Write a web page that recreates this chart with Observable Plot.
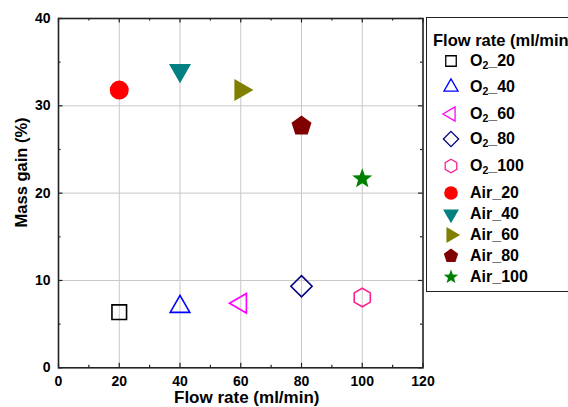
<!DOCTYPE html>
<html>
<head>
<meta charset="utf-8">
<script src="https://cdn.jsdelivr.net/npm/d3@7"></script>
<script src="https://cdn.jsdelivr.net/npm/@observablehq/plot@0.6"></script>
<style>
  html, body { margin: 0; padding: 0; background: #fff; }
  #wrap { position: relative; width: 568px; height: 407px; overflow: hidden; font-family: "Liberation Sans", Arial, sans-serif; font-weight: bold; }
  #legend { position: absolute; left: 426px; top: 17px; width: 170px; height: 275px; border: 1.5px solid #222; box-sizing: border-box; background: #fff; }
  #legend .title { position: absolute; left: 6px; font-size: 16.5px; line-height: 17px; white-space: nowrap; }
  #legend .row { position: absolute; left: 0; height: 20px; width: 170px; }
  #legend .row svg { position: absolute; left: 12px; top: 0; }
  #legend .row span { position: absolute; left: 43px; top: 1px; font-size: 16px; line-height: 18px; white-space: nowrap; }
  #legend sub { font-size: 10.5px; vertical-align: -3px; line-height: 0; }
</style>
</head>
<body>
<div id="wrap"><div id="chart"></div><div id="legend"></div></div>
<script>
// ---- data ----
const legendTitle = "Flow rate (ml/min)";
const xLabel = "Flow rate (ml/min)";
const yLabel = "Mass gain (%)";
const xTicks = [0, 20, 40, 60, 80, 100, 120];
const xMinor = [10, 30, 50, 70, 90, 110];
const yTicks = [0, 10, 20, 30, 40];
const yMinor = [5, 15, 25, 35];
const gases = ["O2", "O2", "O2", "O2", "O2", "Air", "Air", "Air", "Air", "Air"];
const flow = [20, 40, 60, 80, 100, 20, 40, 60, 80, 100];
const gain = [6.37, 6.99, 7.39, 9.34, 8.05, 31.8, 34.05, 31.8, 27.7, 21.65];
const shapes = ["square", "triangleUp", "triangleLeft", "diamond", "hexagon", "circle", "triangleDown", "triangleRight", "pentagon", "star"];
const colors = ["#000000", "#0000ff", "#ff00ff", "#000080", "#ff1f8f", "#ff0000", "#008080", "#808000", "#800000", "#008000"];
const filled = [false, false, false, false, false, true, true, true, true, true];
const radii = [7.3, 11.3, 11.3, 10.6, 9.3, 9.5, 12.7, 12.7, 10.5, 10.5];

// ---- custom symbols (R = sqrt(size/PI) = Plot's r) ----
const S3 = Math.sqrt(3);
function poly(ctx, pts) { ctx.moveTo(pts[0][0], pts[0][1]); for (let i = 1; i < pts.length; i++) ctx.lineTo(pts[i][0], pts[i][1]); ctx.closePath(); }
function R(size) { return Math.sqrt(size / Math.PI); }
const symbols = {
  square: { draw(c, s) { const r = R(s); poly(c, [[-r, -r], [r, -r], [r, r], [-r, r]]); } },
  triangleUp: { draw(c, s) { const r = R(s); poly(c, [[0, -r], [r * S3 / 2, r / 2], [-r * S3 / 2, r / 2]]); } },
  triangleDown: { draw(c, s) { const r = R(s); poly(c, [[0, r], [r * S3 / 2, -r / 2], [-r * S3 / 2, -r / 2]]); } },
  triangleLeft: { draw(c, s) { const r = R(s); poly(c, [[-r, 0], [r / 2, -r * S3 / 2], [r / 2, r * S3 / 2]]); } },
  triangleRight: { draw(c, s) { const r = R(s); poly(c, [[r, 0], [-r / 2, -r * S3 / 2], [-r / 2, r * S3 / 2]]); } },
  diamond: { draw(c, s) { const r = R(s); poly(c, [[0, -r], [r, 0], [0, r], [-r, 0]]); } },
  hexagon: { draw(c, s) { const r = R(s); poly(c, d3.range(6).map(k => { const a = -Math.PI / 2 + k * Math.PI / 3; return [r * Math.cos(a), r * Math.sin(a)]; })); } },
  circle: { draw(c, s) { const r = R(s); c.moveTo(r, 0); c.arc(0, 0, r, 0, 2 * Math.PI); } },
  pentagon: { draw(c, s) { const r = R(s); poly(c, d3.range(5).map(k => { const a = -Math.PI / 2 + k * 2 * Math.PI / 5; return [r * Math.cos(a), r * Math.sin(a)]; })); } },
  star: { draw(c, s) { const r = R(s); poly(c, d3.range(10).map(k => { const a = -Math.PI / 2 + k * Math.PI / 5; const rr = k % 2 ? r * 0.42 : r; return [rr * Math.cos(a), rr * Math.sin(a)]; })); } }
};

const rows = flow.map((f, i) => ({ gas: gases[i], flow: f, gain: gain[i], shape: shapes[i], color: colors[i], filled: filled[i], r: radii[i] }));

// ---- layout ----
const W = 568, H = 407;
const mL = 58, mR = 145.5, mT = 18, mB = 39.7;
const fw = W - mL - mR, fh = H - mT - mB;
const axisColor = "#222";
const gridColor = "#c8c8c8";

const marks = [
  Plot.ruleX(xTicks.slice(1, -1), { stroke: gridColor, strokeWidth: 1 }),
  Plot.ruleY(yTicks.slice(1, -1), { stroke: gridColor, strokeWidth: 1 }),
  // inward ticks on all four sides
  Plot.tickX(xTicks, { x: d => d, insetTop: fh - 4.5, stroke: axisColor, strokeWidth: 1.2 }),
  Plot.tickX(xMinor, { x: d => d, insetTop: fh - 2.5, stroke: axisColor, strokeWidth: 1.2 }),
  Plot.tickX(xTicks, { x: d => d, insetBottom: fh - 4.5, stroke: axisColor, strokeWidth: 1.2 }),
  Plot.tickX(xMinor, { x: d => d, insetBottom: fh - 2.5, stroke: axisColor, strokeWidth: 1.2 }),
  Plot.tickY(yTicks, { y: d => d, insetRight: fw - 4.5, stroke: axisColor, strokeWidth: 1.2 }),
  Plot.tickY(yMinor, { y: d => d, insetRight: fw - 2.5, stroke: axisColor, strokeWidth: 1.2 }),
  Plot.tickY(yTicks, { y: d => d, insetLeft: fw - 4.5, stroke: axisColor, strokeWidth: 1.2 }),
  Plot.tickY(yMinor, { y: d => d, insetLeft: fw - 2.5, stroke: axisColor, strokeWidth: 1.2 }),
  Plot.frame({ stroke: axisColor, strokeWidth: 1.6 }),
  Plot.axisX({ ticks: xTicks, tickSize: 0, tickPadding: 8, label: null, fontSize: 14, fontWeight: "bold", fill: "#000" }),
  Plot.axisY({ ticks: yTicks, tickSize: 0, tickPadding: 8, label: null, fontSize: 14, fontWeight: "bold", fill: "#000" }),
  Plot.text([xLabel], { frameAnchor: "bottom", textAnchor: "middle", lineAnchor: "bottom", dx: 6, dy: 35.5, fontSize: 17, fontWeight: "bold", fill: "#000" }),
  Plot.text([yLabel], { frameAnchor: "left", textAnchor: "middle", lineAnchor: "middle", rotate: -90, dx: -37, dy: -20.7, fontSize: 16.5, fontWeight: "bold", fill: "#000" })
];
for (const d of rows) {
  marks.push(Plot.dot([d], {
    x: "flow", y: "gain",
    symbol: symbols[d.shape], r: d.r,
    fill: d.filled ? d.color : "none",
    stroke: d.filled ? "none" : d.color,
    strokeWidth: 1.6
  }));
}

const chart = Plot.plot({
  width: W, height: H,
  marginLeft: mL, marginRight: mR, marginTop: mT, marginBottom: mB,
  x: { domain: [0, 120] },
  y: { domain: [0, 40] },
  style: { fontFamily: "'Liberation Sans', Arial, sans-serif", fontWeight: "bold", background: "#fff", overflow: "visible" },
  marks
});
document.getElementById("chart").appendChild(chart);

// ---- legend ----
const legend = d3.select("#legend");
const rowCenters = [61, 87, 114, 139, 166, 193, 214, 235, 256, 277];
const legendTop = 17;
legend.append("div").attr("class", "title").style("top", (40 - legendTop - 9) + "px").text(legendTitle);
const lscale = 0.72;
rows.forEach((d, i) => {
  const cy = rowCenters[i] - legendTop - 1.5;
  const row = legend.append("div").attr("class", "row").style("top", (cy - 10) + "px");
  const svg = row.append("svg").attr("width", 24).attr("height", 20);
  const rr = d.r * lscale;
  svg.append("path")
    .attr("transform", "translate(12,10)")
    .attr("d", d3.symbol(symbols[d.shape], Math.PI * rr * rr)())
    .attr("fill", d.filled ? d.color : "none")
    .attr("stroke", d.filled ? "none" : d.color)
    .attr("stroke-width", 1.3);
  const label = row.append("span");
  const flowText = String(d.flow);
  if (d.gas === "O2") label.html("O<sub>2</sub>_" + flowText);
  else label.text(d.gas + "_" + flowText);
});
</script>
</body>
</html>
